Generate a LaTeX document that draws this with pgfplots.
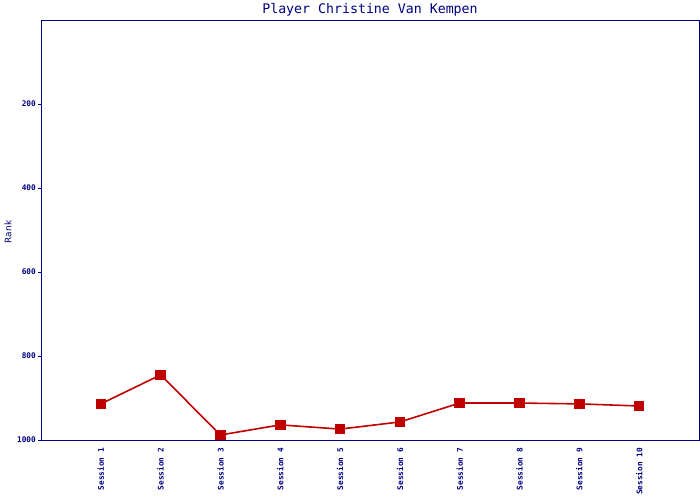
\documentclass[border=0pt]{standalone}
\usepackage{fontspec}
\setmainfont{DejaVu Sans}
\newfontfamily\monof{DejaVu Sans Mono}
\usepackage{pgfplots}
\pgfplotsset{compat=1.18}
\definecolor{navyc}{RGB}{0,0,128}
\definecolor{redc}{RGB}{192,0,0}
\begin{document}
\begin{tikzpicture}
\useasboundingbox (-41bp,-60bp) rectangle (659bp,440bp);
\begin{axis}[
  at={(0,0)}, anchor=south west,
  scale only axis, width=658bp, height=420bp,
  xmin=0, xmax=11, ymin=0, ymax=1000,
  y dir=reverse,
  axis line style={navyc, line width=0.8pt},
  xtick={1,2,3,4,5,6,7,8,9,10},
  xticklabels={Session 1,Session 2,Session 3,Session 4,Session 5,Session 6,Session 7,Session 8,Session 9,Session 10},
  x tick label style={rotate=90, anchor=east, font=\monof\bfseries\fontsize{7.8}{8}\selectfont, text=navyc, inner sep=1pt, xshift=-4bp},
  ytick={200,400,600,800,1000},
  y tick label style={font=\monof\bfseries\fontsize{7.8}{8}\selectfont, text=navyc, inner sep=1pt, xshift=-1bp},
  /pgf/number format/assume math mode=true,
  /pgf/number format/1000 sep={},
  tick align=outside,
  x tick style={draw=none},
  y tick style={navyc, line width=0.6pt},
  major tick length=3bp,
  ylabel={Rank},
  ylabel style={font=\fontsize{9}{10}\selectfont, text=navyc, at={([xshift=-33bp,yshift=-2bp]axis description cs:0,0.5)}, anchor=center, rotate=0},
  every axis title shift=0pt,
  title={Player Christine Van Kempen},
  title style={font=\monof\fontsize{13.3}{14}\selectfont, text=navyc, at={(axis description cs:0.5,1)}, anchor=base, yshift=7bp, inner sep=0pt},
  clip=false,
]
\addplot[redc, line width=1.6pt, mark=square*, mark size=4.5bp, mark options={fill=redc, draw=redc}]
  coordinates {(1,914) (2,845) (3,988) (4,964) (5,974) (6,957) (7,912) (8,912) (9,914) (10,919)};
\end{axis}
\end{tikzpicture}
\end{document}
